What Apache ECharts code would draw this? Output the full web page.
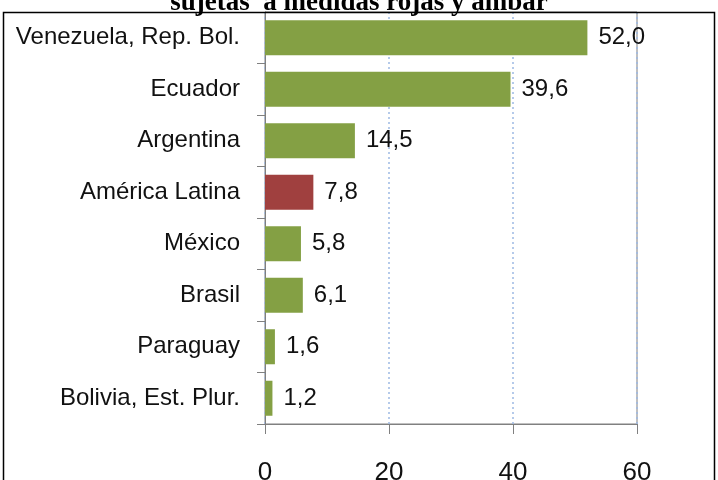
<!DOCTYPE html>
<html>
<head>
<meta charset="utf-8">
<script src="https://cdn.jsdelivr.net/npm/echarts@6/dist/echarts.min.js"></script>
<style>
  html, body { margin: 0; padding: 0; background: #fff; }
  #chart { width: 718px; height: 480px; }
</style>
</head>
<body>
<div id="chart"></div>
<script>
// datos (de arriba hacia abajo)
const paises = ['Venezuela, Rep. Bol.', 'Ecuador', 'Argentina', 'América Latina', 'México', 'Brasil', 'Paraguay', 'Bolivia, Est. Plur.']
const valores = [52.0, 39.6, 14.5, 7.8, 5.8, 6.1, 1.6, 1.2]
const destacado = 'América Latina'
const ticksX = [0, 20, 40, 60]

const verde = '#84A044'
const rojo = '#A0403F'
const fuente = '"Liberation Sans", sans-serif'

const chart = echarts.init(document.getElementById('chart'))
chart.setOption({
  animation: false,
  title: {
    text: 'sujetas  a medidas rojas y ámbar',
    left: 'center',
    top: -15,
    textStyle: { fontFamily: '"Liberation Serif", serif', fontWeight: 'bold', fontSize: 27, color: '#000' }
  },
  graphic: [{
    type: 'rect',
    shape: { x: 3.5, y: 12.5, width: 711, height: 520 },
    style: { fill: 'none', stroke: '#000', lineWidth: 1.5 },
    z: 100
  }],
  grid: {
    left: 265, right: 81, top: 12, bottom: 56,
    containLabel: false,
    outerBoundsMode: 'none',
    show: true, borderColor: '#808080', borderWidth: 1
  },
  xAxis: {
    type: 'value',
    min: 0, max: 60, interval: 20,
    axisLine: { show: true, lineStyle: { color: '#808080' } },
    axisTick: { show: true, length: 10, lineStyle: { color: '#808080' } },
    axisLabel: {
      margin: 36,
      fontFamily: fuente, fontSize: 26, color: '#111',
      formatter: v => ticksX.includes(v) ? String(v) : ''
    },
    splitLine: { show: true, lineStyle: { color: '#9DB9E4', type: [2, 3], width: 1.5 } }
  },
  yAxis: {
    type: 'category',
    inverse: true,
    data: paises,
    axisLine: { show: true, lineStyle: { color: '#808080' } },
    axisTick: { show: true, length: 8, lineStyle: { color: '#808080' } },
    axisLabel: { margin: 25, fontFamily: fuente, fontSize: 24, color: '#111' }
  },
  series: [{
    type: 'bar',
    data: valores.map((v, i) => ({
      value: v,
      itemStyle: { color: paises[i] === destacado ? rojo : verde }
    })),
    barCategoryGap: '32%',
    label: {
      show: true,
      position: 'right',
      distance: 11,
      fontFamily: fuente, fontSize: 24, color: '#111',
      formatter: p => p.value.toFixed(1).replace('.', ',')
    }
  }]
})
</script>
</body>
</html>
